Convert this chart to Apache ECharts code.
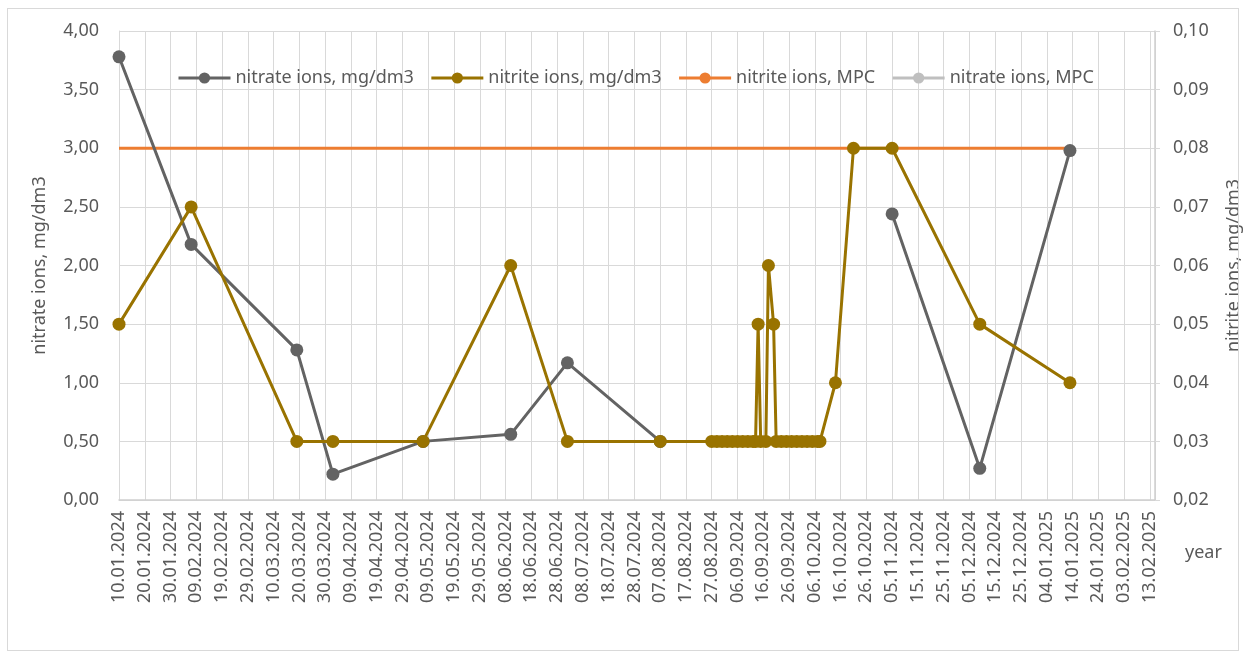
<!DOCTYPE html>
<html>
<head>
<meta charset="utf-8">
<script src="https://cdn.jsdelivr.net/npm/echarts@6/dist/echarts.min.js"></script>
<style>
  html, body { margin: 0; padding: 0; background: #fff; }
  #chart { width: 1245px; height: 652px; }
  .frame {
    position: absolute; left: 7px; top: 8px; width: 1230px; height: 641px;
    border: 1px solid #d9d9d9; pointer-events: none;
  }
</style>
</head>
<body>
<div id="chart"></div>
<div class="frame"></div>
<script>
// measured dates (dd.mm.yyyy) and values
const nitrateDates = ['10.01.2024', '07.02.2024', '19.03.2024', '02.04.2024', '07.05.2024', '10.06.2024',
  '02.07.2024', '07.08.2024', '14.10.2024', '05.11.2024', '09.12.2024', '13.01.2025']
const nitrateValues = [3.78, 2.18, 1.28, 0.22, 0.50, 0.56, 1.17, 0.50, null, 2.44, 0.27, 2.98]

const nitriteDates = ['10.01.2024', '07.02.2024', '19.03.2024', '02.04.2024', '07.05.2024', '10.06.2024',
  '02.07.2024', '07.08.2024', '27.08.2024', '29.08.2024', '31.08.2024', '02.09.2024', '04.09.2024',
  '06.09.2024', '08.09.2024', '10.09.2024', '12.09.2024', '13.09.2024', '14.09.2024', '15.09.2024',
  '17.09.2024', '18.09.2024', '20.09.2024', '21.09.2024', '23.09.2024', '25.09.2024', '27.09.2024',
  '29.09.2024', '01.10.2024', '03.10.2024', '05.10.2024', '07.10.2024', '08.10.2024', '14.10.2024',
  '21.10.2024', '05.11.2024', '09.12.2024', '13.01.2025']
const nitriteValues = [0.05, 0.07, 0.03, 0.03, 0.03, 0.06,
  0.03, 0.03, 0.03, 0.03, 0.03, 0.03, 0.03,
  0.03, 0.03, 0.03, 0.03, 0.03, 0.05, 0.03,
  0.03, 0.06, 0.05, 0.03, 0.03, 0.03, 0.03,
  0.03, 0.03, 0.03, 0.03, 0.03, 0.03, 0.04,
  0.08, 0.08, 0.05, 0.04]

const nitriteMpcDates = ['10.01.2024', '13.01.2025']
const nitriteMpcValues = [0.08, 0.08]

const nitrateMpcDates = []
const nitrateMpcValues = []

const leftTicks = [0, 4, 0.5]      // min, max, step
const rightTicks = [0.02, 0.10, 0.01]
const dayStep = 10
const lastDay = 402

const BASE = Date.UTC(2024, 0, 10)
const DAY = 86400000

const toDay = (s) => {
  const [d, m, y] = s.split('.').map(Number)
  return Math.round((Date.UTC(y, m - 1, d) - BASE) / DAY)
}
const pad = (n) => (n < 10 ? '0' : '') + n
const fmtDay = (v) => {
  const dt = new Date(BASE + v * DAY)
  return pad(dt.getUTCDate()) + '.' + pad(dt.getUTCMonth() + 1) + '.' + dt.getUTCFullYear()
}
const pairs = (dates, vals) => dates.map((s, i) => [toDay(s), vals[i] == null ? '-' : vals[i]])
const comma = (v) => v.toFixed(2).replace('.', ',')

const FONT = 'Noto Sans'
const TXT = '#595959'
const GRID = '#d9d9d9'

const chart = echarts.init(document.getElementById('chart'))

chart.setOption({
  animation: false,
  textStyle: { fontFamily: FONT },
  legend: {
    left: 172,
    top: 64,
    itemWidth: 52,
    itemHeight: 14,
    itemGap: 16,
    lineStyle: { width: 3 },
    textStyle: { fontFamily: FONT, fontSize: 18, color: TXT },
    data: ['nitrate ions, mg/dm3', 'nitrite ions, mg/dm3', 'nitrite ions, MPC', 'nitrate ions, MPC']
  },
  grid: { left: 119, right: 90, top: 31, bottom: 152, outerBoundsMode: 'none' },
  xAxis: {
    type: 'value',
    min: 0,
    max: lastDay,
    interval: dayStep,
    name: 'year',
    nameLocation: 'end',
    nameGap: 30,
    nameTextStyle: { fontFamily: FONT, fontSize: 18, color: TXT, verticalAlign: 'top', padding: [44, 0, 0, 0] },
    axisLine: { lineStyle: { color: '#cfcfcf', width: 1.5 } },
    axisTick: { show: false },
    splitLine: { lineStyle: { color: GRID, width: 1 } },
    axisLabel: {
      rotate: 90,
      margin: 11,
      showMaxLabel: false,
      fontFamily: FONT,
      fontSize: 18,
      color: TXT,
      formatter: fmtDay
    }
  },
  yAxis: [
    {
      type: 'value',
      min: leftTicks[0],
      max: leftTicks[1],
      interval: leftTicks[2],
      name: 'nitrate ions, mg/dm3',
      nameLocation: 'middle',
      nameGap: 70,
      nameTextStyle: { fontFamily: FONT, fontSize: 18, color: TXT },
      axisLine: { show: true, lineStyle: { color: GRID } },
      axisTick: { show: false },
      splitLine: { lineStyle: { color: GRID, width: 1 } },
      axisLabel: { margin: 20, fontFamily: FONT, fontSize: 18, color: TXT, formatter: comma }
    },
    {
      type: 'value',
      min: rightTicks[0],
      max: rightTicks[1],
      interval: rightTicks[2],
      position: 'right',
      name: 'nitrite ions, mg/dm3',
      nameLocation: 'middle',
      nameGap: 70,
      nameTextStyle: { fontFamily: FONT, fontSize: 18, color: TXT },
      axisLine: { show: true, lineStyle: { color: '#cfcfcf', width: 1.5 } },
      axisTick: { show: true, length: 5, lineStyle: { color: GRID } },
      splitLine: { show: false },
      axisLabel: { margin: 18, fontFamily: FONT, fontSize: 18, color: TXT, formatter: comma }
    }
  ],
  series: [
    {
      name: 'nitrite ions, MPC',
      type: 'line',
      yAxisIndex: 1,
      showSymbol: false,
      symbol: 'none',
      data: pairs(nitriteMpcDates, nitriteMpcValues),
      lineStyle: { color: '#ed7d31', width: 3 },
      itemStyle: { color: '#ed7d31' },
      z: 1
    },
    {
      name: 'nitrate ions, mg/dm3',
      type: 'line',
      yAxisIndex: 0,
      symbol: 'circle',
      symbolSize: 13,
      connectNulls: false,
      data: pairs(nitrateDates, nitrateValues),
      lineStyle: { color: '#636363', width: 3 },
      itemStyle: { color: '#636363' },
      z: 2
    },
    {
      name: 'nitrite ions, mg/dm3',
      type: 'line',
      yAxisIndex: 1,
      symbol: 'circle',
      symbolSize: 13,
      data: pairs(nitriteDates, nitriteValues),
      lineStyle: { color: '#997300', width: 3 },
      itemStyle: { color: '#997300' },
      z: 3
    },
    {
      name: 'nitrate ions, MPC',
      type: 'line',
      yAxisIndex: 0,
      symbol: 'circle',
      symbolSize: 13,
      data: pairs(nitrateMpcDates, nitrateMpcValues),
      lineStyle: { color: '#bfbfbf', width: 3 },
      itemStyle: { color: '#bfbfbf' },
      z: 1
    }
  ]
})
</script>
</body>
</html>
